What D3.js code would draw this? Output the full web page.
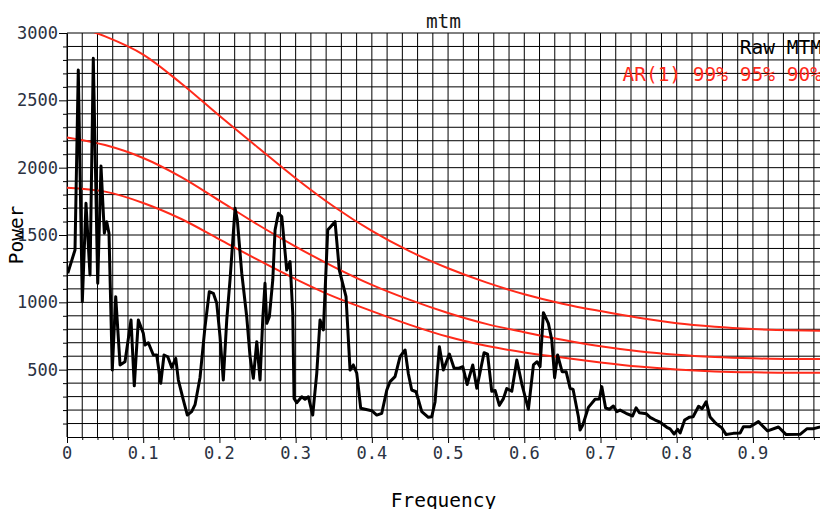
<!DOCTYPE html>
<html><head><meta charset="utf-8">
<script src="https://cdn.jsdelivr.net/npm/d3@7"></script>
<style>
html,body{margin:0;padding:0;background:#fff;overflow:hidden;}
svg{display:block;}
text{font-family:"DejaVu Sans Mono",monospace;}
</style></head>
<body>
<svg id="chart" width="820" height="509"></svg>
<script>
// ---- data ----
const rawFreq = [0.001,0.0105,0.0148,0.0201,0.0249,0.0276,0.0302,0.0345,0.0403,0.0446,0.049,0.0521,0.0551,0.0594,0.0639,0.0696,0.0761,0.084,0.0883,0.0936,0.1001,0.1024,0.1067,0.1133,0.1177,0.123,0.1273,0.1322,0.1374,0.1427,0.1461,0.1526,0.1579,0.1636,0.168,0.1745,0.1811,0.1867,0.192,0.1965,0.2008,0.2051,0.2096,0.2139,0.2205,0.2235,0.2293,0.2358,0.2402,0.2445,0.249,0.2533,0.2568,0.2598,0.2621,0.2655,0.27,0.273,0.2773,0.2818,0.2883,0.2927,0.2962,0.2979,0.3014,0.308,0.3123,0.3167,0.3224,0.3277,0.332,0.3364,0.3421,0.3517,0.3573,0.3661,0.3714,0.3757,0.3802,0.3854,0.3999,0.4064,0.413,0.4196,0.4239,0.4304,0.437,0.4436,0.4479,0.4523,0.458,0.4655,0.4741,0.4786,0.4829,0.4886,0.4938,0.5017,0.5079,0.5135,0.5193,0.525,0.5324,0.5377,0.5472,0.5518,0.5573,0.5617,0.5673,0.5726,0.577,0.5836,0.5902,0.5967,0.6054,0.612,0.6168,0.6207,0.6251,0.6316,0.6361,0.6398,0.6437,0.6496,0.6549,0.6601,0.664,0.671,0.6732,0.6768,0.6841,0.6929,0.6985,0.7017,0.7067,0.7117,0.7169,0.7214,0.7257,0.7336,0.7421,0.7467,0.751,0.7602,0.7651,0.7717,0.7782,0.787,0.7913,0.7966,0.8012,0.8045,0.8104,0.8163,0.8215,0.8287,0.8333,0.8386,0.8438,0.8511,0.8592,0.8648,0.8744,0.8832,0.8875,0.8963,0.9072,0.9193,0.9335,0.9436,0.9619,0.9711,0.9797,0.9882];
const rawPower = [1216,1389,2725,1005,1735,1460,1203,2812,1141,2012,1513,1599,1513,497,1042,535,559,869,380,869,770,683,700,609,609,399,609,596,517,584,423,275,163,188,240,440,819,1079,1067,993,745,423,869,1166,1698,1611,1216,893,596,436,708,423,869,1141,844,893,1166,1537,1661,1636,1240,1302,919,287,255,299,280,299,163,473,869,795,1537,1599,1240,1042,497,535,473,213,195,163,176,349,411,448,596,646,470,349,336,188,146,151,260,671,497,616,510,510,522,390,535,362,626,615,340,345,235,285,360,340,572,395,206,535,559,522,923,844,720,440,609,485,485,362,354,151,52,89,220,280,282,374,215,206,230,188,200,176,156,216,180,172,146,126,110,72,60,22,57,30,126,146,150,228,210,262,148,102,68,18,27,30,76,76,114,45,74,18,20,62,62,74];

const arFreq = [0,0.05,0.1,0.15,0.2,0.25,0.3,0.35,0.4,0.45,0.5,0.55,0.6,0.65,0.7,0.75,0.8,0.85,0.9,0.95,0.988];
const ar99 = [3070,2975,2840,2625,2385,2152,1922,1712,1530,1378,1253,1148,1060,990,935,886,845,819,802,792,789];
const ar95 = [2225,2168,2072,1930,1755,1578,1414,1264,1130,1018,921,840,778,722,674,637,611,594,584,579,579];
const ar90 = [1851,1822,1738,1619,1468,1317,1173,1042,935,833,744,677,628,590,554,523,501,487,480,477,477];

const xTickLabels = ["0","0.1","0.2","0.3","0.4","0.5","0.6","0.7","0.8","0.9"];
const yTickLabels = ["500","1000","1500","2000","2500","3000"];
const legendLabels = ["Raw MTM","AR(1) 99% 95% 90%"];
const titleText = "mtm", xLabel = "Frequency", yLabel = "Power";

// ---- layout ----
const L = 67, R = 820, T = 33, B = 437;
const red = "#ff2a1a";
const svg = d3.select("#chart");
const x = d3.scaleLinear().domain([0, 0.988]).range([L, R]);
const y = d3.scaleLinear().domain([0, 3000]).range([B, T]);

svg.append("defs").append("clipPath").attr("id","clip")
  .append("rect").attr("x",L).attr("y",T).attr("width",R-L).attr("height",B-T);

// grid
const gx = d3.range(0, 50).map(i => i*0.02);
const gy = d3.range(1, 31).map(i => i*100);
const grid = svg.append("g").attr("stroke","#000").attr("stroke-width",1);
grid.selectAll(".vg").data(gx).join("line")
  .attr("x1",d=>x(d)).attr("x2",d=>x(d)).attr("y1",T).attr("y2",B);
grid.selectAll(".hg").data(gy).join("line")
  .attr("x1",L).attr("x2",R).attr("y1",d=>y(d)).attr("y2",d=>y(d));

// axes
const xAxis = d3.axisBottom(x).tickValues(gx)
  .tickSizeInner(0).tickSizeOuter(0).tickFormat("");
svg.append("g").attr("transform",`translate(0,${B})`).call(xAxis)
  .call(g=>g.select(".domain").attr("stroke","#000"))
  .call(g=>g.selectAll(".tick line").attr("y2",(d,i)=> i%5===0?6:3).attr("stroke","#000"));
svg.append("g").selectAll("text").data(xTickLabels).join("text")
  .attr("x",(d,i)=>x(i*0.1)).attr("y",459).attr("text-anchor","middle")
  .attr("font-size","17px").attr("fill","#2b3242").text(d=>d);

const yAxis = d3.axisLeft(y).tickValues(gy).tickSizeInner(0).tickSizeOuter(0).tickFormat("");
svg.append("g").attr("transform",`translate(${L},0)`).call(yAxis)
  .call(g=>g.select(".domain").attr("stroke","#000"))
  .call(g=>g.selectAll(".tick line").attr("x2",d=> d%500===0?-8:-4).attr("stroke","#000"));
svg.append("g").selectAll("text").data(yTickLabels).join("text")
  .attr("x",58).attr("y",d=>y(+d)).attr("dy","0.35em").attr("text-anchor","end")
  .attr("font-size","17px").attr("fill","#2b3242").text(d=>d);

// AR curves
const plot = svg.append("g").attr("clip-path","url(#clip)");
const arLine = d3.line().x(d=>x(d[0])).y(d=>y(d[1])).curve(d3.curveMonotoneX);
[ar99, ar95, ar90].forEach(s => {
  plot.append("path").datum(arFreq.map((f,i)=>[f,s[i]]))
    .attr("d",arLine).attr("fill","none").attr("stroke",red).attr("stroke-width",2);
});

// raw line
const rawLine = d3.line().x(d=>x(d[0])).y(d=>y(d[1]));
plot.append("path").datum(rawFreq.map((f,i)=>[f,rawPower[i]]))
  .attr("d",rawLine).attr("fill","none").attr("stroke","#000")
  .attr("stroke-width",3).attr("stroke-linejoin","round");

// texts
svg.append("text").attr("x",(L+R)/2).attr("y",28).attr("text-anchor","middle")
  .attr("font-size","19.5px").attr("fill","#1a1a1a").text(titleText);
svg.append("text").attr("x",822).attr("y",54).attr("text-anchor","end")
  .attr("font-size","19.5px").attr("fill","#000").text(legendLabels[0]);
svg.append("text").attr("x",822).attr("y",80.5).attr("text-anchor","end")
  .attr("font-size","19.5px").attr("fill",red).text(legendLabels[1]);
svg.append("text").attr("x",(L+R)/2).attr("y",507).attr("text-anchor","middle")
  .attr("font-size","19.5px").attr("fill","#000").text(xLabel);
svg.append("text").attr("transform",`translate(23,${(T+B)/2}) rotate(-90)`)
  .attr("text-anchor","middle").attr("font-size","19.5px").attr("fill","#000").text(yLabel);
</script>
</body></html>
